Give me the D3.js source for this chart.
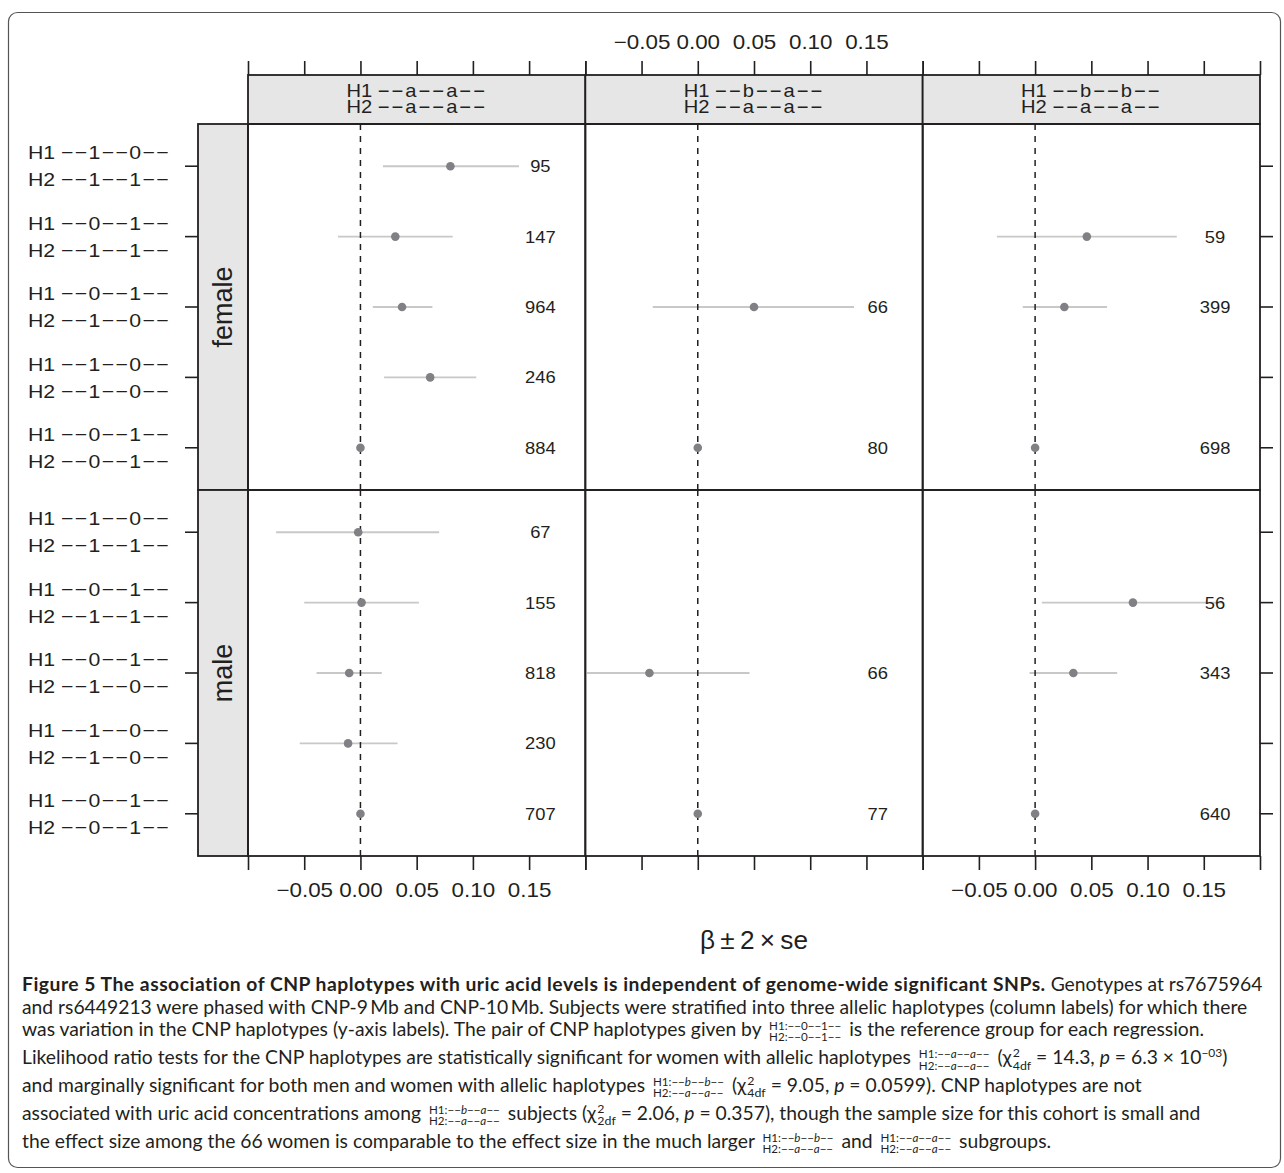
<!DOCTYPE html>
<html>
<head>
<meta charset="utf-8">
<script src="https://cdn.jsdelivr.net/npm/d3@7"></script>
<style>
  body { margin: 0; background: #fff; }
  #fig { position: relative; width: 1284px; height: 1173px; overflow: hidden; }
  #chart { position: absolute; left: 0; top: 0; }
  #caption { position: absolute; left: 22px; top: 0; font-family: Lato, "Open Sans", sans-serif; color: #231f20; }
  #caption .line { position: absolute; left: 0; white-space: nowrap; transform: translateY(-50%); }
  #caption b { letter-spacing: 0.5px; }
  .fr { display: inline-flex; flex-direction: column; vertical-align: middle; font-size: 0.6em; line-height: 1.0; margin: 0 3px; }
  .fr i { font-style: italic; }
  .ss { display: inline-flex; flex-direction: column; vertical-align: middle; font-size: 0.64em; line-height: 1.0; margin-left: 1px; }
</style>
</head>
<body>
<div id="fig">
  <svg id="chart" width="1284" height="1173"></svg>
  <div id="caption"></div>
</div>
<script>
// column strips (allelic haplotypes)
const colH1 = ["--a--a--", "--b--a--", "--b--b--"];
const colH2 = ["--a--a--", "--a--a--", "--a--a--"];
// row strips
const sexes = ["female", "male"];
// y-axis labels (CNP haplotypes), top to bottom
const rowH1 = ["--1--0--", "--0--1--", "--0--1--", "--1--0--", "--0--1--"];
const rowH2 = ["--1--1--", "--1--1--", "--1--0--", "--1--0--", "--0--1--"];

const xDomain = [-0.10, 0.20];
const xTicks = [-0.10, -0.05, 0, 0.05, 0.10, 0.15, 0.20];
const countAt = 0.16;

// sex, column, row, beta, lower, upper, n   (reference group has no interval)
const estimates = [
  ["female", 0, 0, 0.080, 0.020, 0.141, 95],
  ["female", 0, 1, 0.031, -0.020, 0.082, 147],
  ["female", 0, 2, 0.037, 0.011, 0.064, 964],
  ["female", 0, 3, 0.062, 0.021, 0.103, 246],
  ["female", 0, 4, 0, null, null, 884],
  ["female", 1, 2, 0.050, -0.040, 0.139, 66],
  ["female", 1, 4, 0, null, null, 80],
  ["female", 2, 1, 0.046, -0.034, 0.126, 59],
  ["female", 2, 2, 0.026, -0.011, 0.064, 399],
  ["female", 2, 4, 0, null, null, 698],
  ["male", 0, 0, -0.002, -0.075, 0.070, 67],
  ["male", 0, 1, 0.001, -0.050, 0.052, 155],
  ["male", 0, 2, -0.010, -0.039, 0.019, 818],
  ["male", 0, 3, -0.011, -0.054, 0.033, 230],
  ["male", 0, 4, 0, null, null, 707],
  ["male", 1, 2, -0.043, -0.133, 0.046, 66],
  ["male", 1, 4, 0, null, null, 77],
  ["male", 2, 1, 0.087, 0.006, 0.167, 56],
  ["male", 2, 2, 0.034, -0.005, 0.073, 343],
  ["male", 2, 4, 0, null, null, 640],
].map(d => ({ sex: d[0], col: d[1], row: d[2], beta: d[3], lo: d[4], hi: d[5], n: d[6] }));

const FONT = "'Liberation Sans', Arial, Helvetica, sans-serif";
const INK = "#231f20";
const STRETCH = "scale(1.12,1)";
const minus = s => s.replace(/-/g, "\u2212");

const svg = d3.select("#chart");

// outer frame
svg.append("rect")
  .attr("x", 8.5).attr("y", 12.5).attr("width", 1272).attr("height", 1155)
  .attr("rx", 9).attr("fill", "none").attr("stroke", "#555").attr("stroke-width", 1.2);

const xCol = d3.scaleBand().domain(d3.range(colH1.length)).range([248, 1260]);
const yRow = d3.scaleBand().domain(sexes).range([124, 856]);
const xVal = d3.scaleLinear().domain(xDomain).range([0, xCol.bandwidth()]);
const yPos = d3.scalePoint().domain(d3.range(rowH1.length)).range([0, yRow.bandwidth()]).padding(0.6);

const stripTop = 75;

// "H1 --a--a--" style label: prefix, then the dashed code with a little tracking
function haploLabel(sel, prefix, code, size, track) {
  sel.attr("font-family", FONT).attr("font-size", size).attr("fill", INK);
  sel.append("tspan").text(prefix + " ");
  sel.append("tspan").attr("letter-spacing", track).text(minus(code));
}

// column strips
const strips = svg.append("g").selectAll("g").data(d3.range(colH1.length)).join("g")
  .attr("transform", c => `translate(${xCol(c)},${stripTop})`);
strips.append("rect")
  .attr("width", xCol.bandwidth()).attr("height", yRow(sexes[0]) - stripTop)
  .attr("fill", "#e6e6e7").attr("stroke", INK).attr("stroke-width", 1.8);
strips.each(function (c) {
  const g = d3.select(this);
  [["H1", colH1[c], 15.5], ["H2", colH2[c], 32]].forEach(([p, code, y]) => {
    const t = g.append("text")
      .attr("transform", `translate(${xCol.bandwidth() / 2},${y}) ${STRETCH}`)
      .attr("dy", "0.35em").attr("text-anchor", "middle");
    haploLabel(t, p, code, 18, 1.8);
  });
});

// row strips
const rstrips = svg.append("g").selectAll("g").data(sexes).join("g")
  .attr("transform", s => `translate(198,${yRow(s)})`);
rstrips.append("rect")
  .attr("width", 50).attr("height", yRow.bandwidth())
  .attr("fill", "#e6e6e7").attr("stroke", INK).attr("stroke-width", 1.8);
rstrips.append("text")
  .attr("transform", `translate(25,${yRow.bandwidth() / 2}) rotate(-90)`)
  .attr("dy", "0.35em").attr("text-anchor", "middle")
  .attr("font-family", FONT).attr("font-size", 27).attr("fill", INK)
  .text(d => d);

// y labels and ticks
sexes.forEach(s => {
  const g = svg.append("g").attr("transform", `translate(0,${yRow(s)})`);
  const rows = g.selectAll("g").data(d3.range(rowH1.length)).join("g")
    .attr("transform", r => `translate(0,${yPos(r)})`);
  rows.append("line").attr("x1", 185).attr("x2", 198).attr("stroke", INK).attr("stroke-width", 1.6);
  rows.append("line").attr("x1", 1260).attr("x2", 1273).attr("stroke", INK).attr("stroke-width", 1.6);
  rows.each(function (r) {
    const row = d3.select(this);
    [["H1", rowH1[r], -13.5], ["H2", rowH2[r], 13.5]].forEach(([p, code, dy]) => {
      const t = row.append("text")
        .attr("transform", `translate(28,${dy}) ${STRETCH}`)
        .attr("dy", "0.35em");
      haploLabel(t, p, code, 19, 1.2);
    });
  });
});

// panels
const defs = svg.append("defs");
defs.append("clipPath").attr("id", "panelClip").append("rect")
  .attr("width", xCol.bandwidth()).attr("height", yRow.bandwidth());

sexes.forEach(s => {
  d3.range(colH1.length).forEach(c => {
    const data = estimates.filter(d => d.sex === s && d.col === c);
    const g = svg.append("g").attr("transform", `translate(${xCol(c)},${yRow(s)})`);
    const inner = g.append("g").attr("clip-path", "url(#panelClip)");

    inner.selectAll("line.ci").data(data.filter(d => d.lo !== null)).join("line")
      .attr("class", "ci")
      .attr("x1", d => xVal(d.lo)).attr("x2", d => xVal(d.hi))
      .attr("y1", d => yPos(d.row)).attr("y2", d => yPos(d.row))
      .attr("stroke", "#c8c8c8").attr("stroke-width", 1.8);

    inner.append("line")
      .attr("x1", xVal(0)).attr("x2", xVal(0)).attr("y1", 0).attr("y2", yRow.bandwidth())
      .attr("stroke", INK).attr("stroke-width", 1.5).attr("stroke-dasharray", "6,6");

    inner.selectAll("circle").data(data).join("circle")
      .attr("cx", d => xVal(d.beta)).attr("cy", d => yPos(d.row)).attr("r", 4.3)
      .attr("fill", "#808085");

    inner.selectAll("text").data(data).join("text")
      .attr("transform", d => `translate(${xVal(countAt)},${yPos(d.row)}) scale(1.08,1)`)
      .attr("dy", "0.35em").attr("text-anchor", "middle")
      .attr("font-family", FONT).attr("font-size", 17).attr("fill", INK)
      .text(d => d.n);

    g.append("rect")
      .attr("width", xCol.bandwidth()).attr("height", yRow.bandwidth())
      .attr("fill", "none").attr("stroke", INK).attr("stroke-width", 1.8);
  });
});

// axes: labels alternate (top on the middle column, bottom on the outer columns)
const fmt = v => (v > xDomain[0] + 1e-9 && v < xDomain[1] - 1e-9) ? d3.format(".2f")(v) : "";
function styleAxis(g) {
  g.select(".domain").remove();
  g.selectAll(".tick line").attr("stroke", INK).attr("stroke-width", 1.6);
  g.selectAll(".tick text").attr("font-family", FONT).attr("font-size", 20).attr("fill", INK)
    .attr("transform", STRETCH);
}
d3.range(colH1.length).forEach(c => {
  const xs = xVal.copy().range([xCol(c), xCol(c) + xCol.bandwidth()]);
  svg.append("g").attr("transform", `translate(0,${stripTop})`)
    .call(d3.axisTop(xs).tickValues(xTicks).tickSize(14).tickPadding(12)
      .tickFormat(c === 1 ? fmt : () => ""))
    .call(styleAxis);
  svg.append("g").attr("transform", `translate(0,${yRow.range()[1]})`)
    .call(d3.axisBottom(xs).tickValues(xTicks).tickSize(14).tickPadding(13)
      .tickFormat(c !== 1 ? fmt : () => ""))
    .call(styleAxis);
});

// x axis title
svg.append("text")
  .attr("x", (xCol.range()[0] + xCol.range()[1]) / 2).attr("y", 940).attr("dy", "0.35em")
  .attr("text-anchor", "middle")
  .attr("font-family", FONT).attr("font-size", 26).attr("fill", INK)
  .attr("textLength", 108).attr("lengthAdjust", "spacingAndGlyphs")
  .text("\u03b2\u2009\u00b1\u20092\u2009\u00d7\u2009se");

// caption
const fr = (a, b) => {
  const f = s => minus(s).replace(/([ab])/g, "<i>$1</i>");
  return `<span class="fr"><span>H1:${f(a)}</span><span>H2:${f(b)}</span></span>`;
};
const chi = df => `(\u03c7<span class="ss"><span>2</span><span>${df}</span></span> = `;
const captionLines = [
  `<b>Figure 5 The association of CNP haplotypes with uric acid levels is independent of genome-wide significant SNPs.</b> Genotypes at rs7675964`,
  `and rs6449213 were phased with CNP-9\u2009Mb and CNP-10\u2009Mb. Subjects were stratified into three allelic haplotypes (column labels) for which there`,
  `was variation in the CNP haplotypes (y-axis labels). The pair of CNP haplotypes given by ${fr("--0--1--", "--0--1--")} is the reference group for each regression.`,
  `Likelihood ratio tests for the CNP haplotypes are statistically significant for women with allelic haplotypes ${fr("--a--a--", "--a--a--")} ${chi("4df")}14.3, <i>p</i> = 6.3 \u00d7 10<sup style="font-size:0.62em">\u221203</sup>)`,
  `and marginally significant for both men and women with allelic haplotypes ${fr("--b--b--", "--a--a--")} ${chi("4df")}9.05, <i>p</i> = 0.0599). CNP haplotypes are not`,
  `associated with uric acid concentrations among ${fr("--b--a--", "--a--a--")} subjects ${chi("2df")}2.06, <i>p</i> = 0.357), though the sample size for this cohort is small and`,
  `the effect size among the 66 women is comparable to the effect size in the much larger ${fr("--b--b--", "--a--a--")} and ${fr("--a--a--", "--a--a--")} subgroups.`,
];
const captionY = [983, 1006, 1030, 1058, 1086, 1114, 1142];

const cap = d3.select("#caption").style("font-size", "17px");
cap.selectAll("div").data(captionLines).join("div")
  .attr("class", "line")
  .style("top", (d, i) => captionY[i] + "px")
  .html(d => d);
// fit the font so the plain second line spans about its width in the figure
const w2 = cap.selectAll("div").nodes()[1].getBoundingClientRect().width;
cap.style("font-size", (17 * 1226 / w2).toFixed(2) + "px");
</script>
</body>
</html>
